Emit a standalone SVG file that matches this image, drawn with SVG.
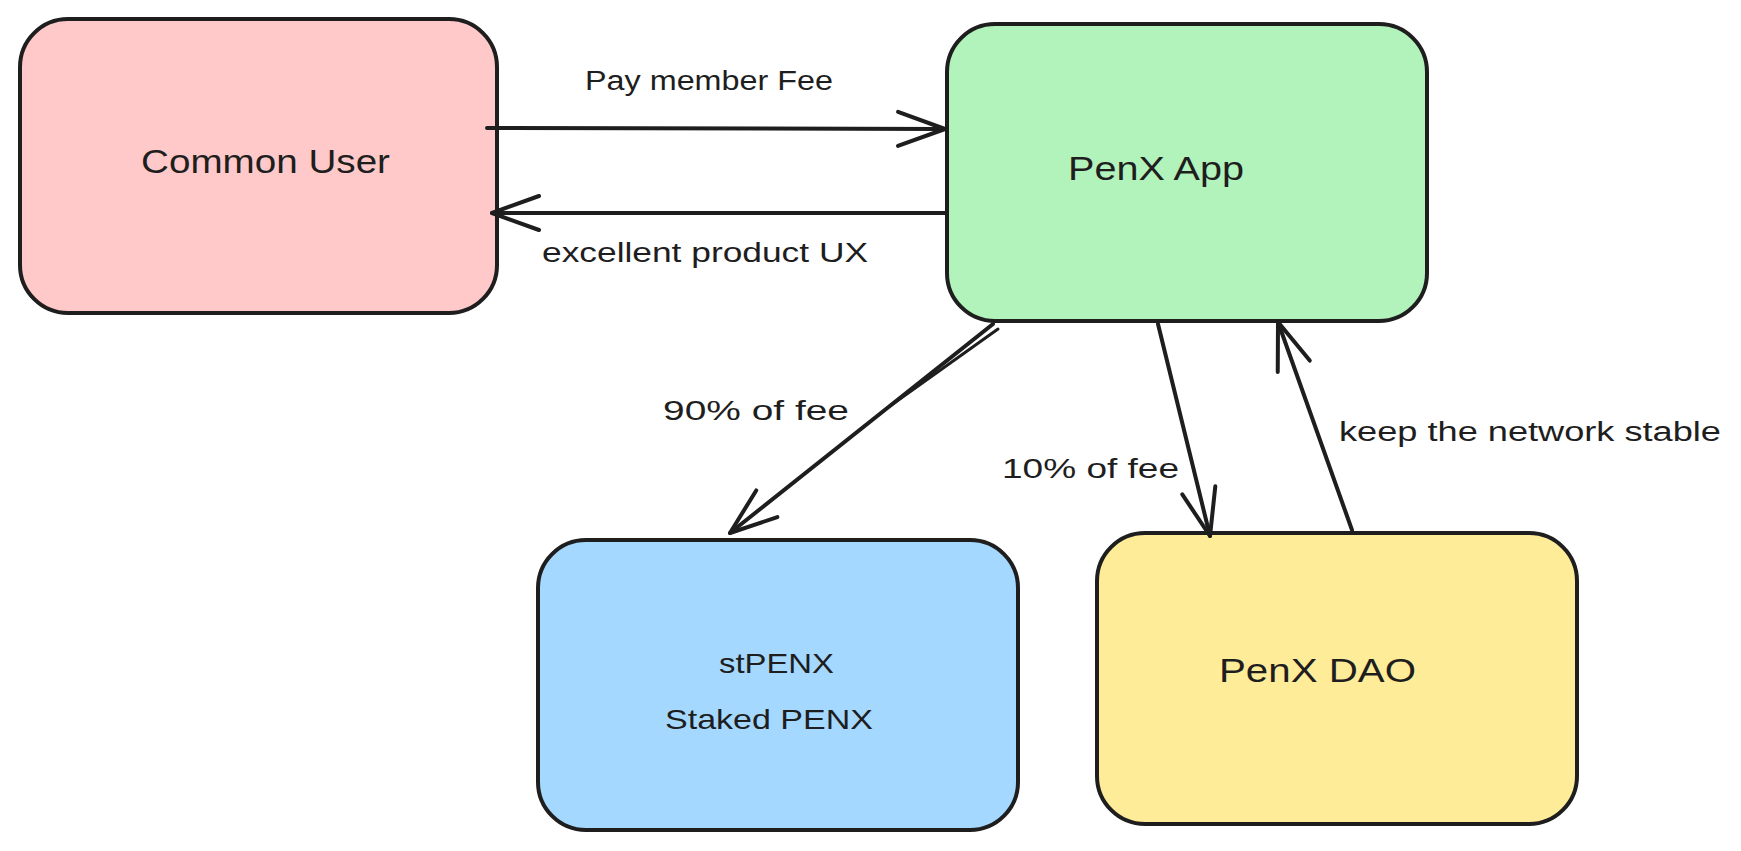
<svg xmlns="http://www.w3.org/2000/svg" width="1741" height="851" viewBox="0 0 1741 851">
  <defs>
    <style>
      .box { stroke: #1e1e1e; stroke-width: 4; stroke-linejoin: round; }
      .title { font-family: "Liberation Sans", Arial, sans-serif; font-size: 34px; fill: #1e1e1e; }
      .sub { font-family: "Liberation Sans", Arial, sans-serif; font-size: 28px; fill: #1e1e1e; }
      .label { font-family: "Liberation Sans", Arial, sans-serif; font-size: 27px; fill: #1e1e1e; }
      .edge { stroke: #1e1e1e; stroke-width: 4; fill: none; stroke-linecap: round; stroke-linejoin: round; }
    </style>
    <marker id="arrow" viewBox="-52 -22 56 44" refX="0" refY="0" markerWidth="56" markerHeight="44" markerUnits="userSpaceOnUse" orient="auto" overflow="visible">
      <path d="M-47,-17 L0,0 L-47,17" fill="none" stroke="#1e1e1e" stroke-width="4" stroke-linecap="round" stroke-linejoin="round"/>
    </marker>
  </defs>
  <rect width="1741" height="851" fill="#ffffff"/>

  <g id="node-common-user">
    <rect class="box" x="20" y="19" width="477" height="294" rx="48" ry="48" fill="#ffc9c9"/>
    <text class="title" x="141" y="173" textLength="249" lengthAdjust="spacingAndGlyphs">Common User</text>
  </g>

  <g id="node-penx-app">
    <rect class="box" x="947" y="24" width="480" height="297" rx="48" ry="48" fill="#b2f2bb"/>
    <text class="title" x="1068" y="180" textLength="176" lengthAdjust="spacingAndGlyphs">PenX App</text>
  </g>

  <g id="node-stpenx">
    <rect class="box" x="538" y="540" width="480" height="290" rx="48" ry="48" fill="#a5d8ff"/>
    <text class="sub" x="719" y="673" textLength="115" lengthAdjust="spacingAndGlyphs">stPENX</text>
    <text class="sub" x="665" y="729" textLength="208" lengthAdjust="spacingAndGlyphs">Staked PENX</text>
  </g>

  <g id="node-penx-dao">
    <rect class="box" x="1097" y="533" width="480" height="291" rx="48" ry="48" fill="#ffec99"/>
    <text class="title" x="1219" y="682" textLength="197" lengthAdjust="spacingAndGlyphs">PenX DAO</text>
  </g>

  <g id="connectors">
    <path class="edge" d="M487,128 L945,129" marker-end="url(#arrow)"/>
    <path class="edge" d="M947,213 L492,213" marker-end="url(#arrow)"/>
    <path class="edge" d="M993,324 L730,533" marker-end="url(#arrow)"/>
    <path d="M998,329 L890,406" stroke="#1e1e1e" stroke-width="3" fill="none" stroke-linecap="round"/>
    <path class="edge" d="M1158,324 L1210,536" marker-end="url(#arrow)"/>
    <path class="edge" d="M1352,530 L1278,322" marker-end="url(#arrow)"/>

    <text class="label" x="585" y="90" textLength="248" lengthAdjust="spacingAndGlyphs">Pay member Fee</text>
    <text class="label" x="542" y="262" textLength="326" lengthAdjust="spacingAndGlyphs">excellent product UX</text>
    <text class="label" x="663" y="420" textLength="186" lengthAdjust="spacingAndGlyphs">90% of fee</text>
    <text class="label" x="1002" y="478" textLength="177" lengthAdjust="spacingAndGlyphs">10% of fee</text>
    <text class="label" x="1339" y="441" textLength="382" lengthAdjust="spacingAndGlyphs">keep the network stable</text>
  </g>
</svg>
